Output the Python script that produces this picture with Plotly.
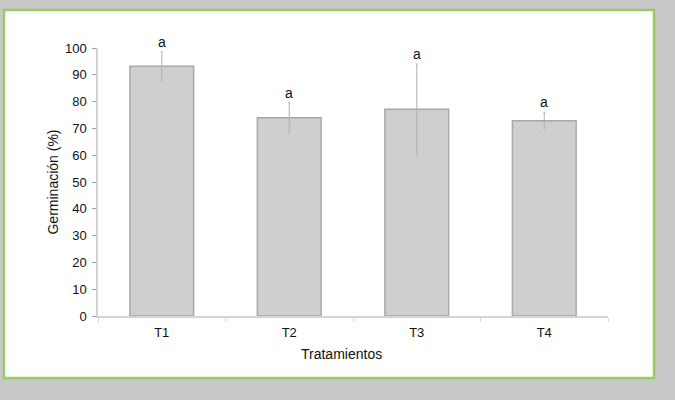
import plotly.graph_objects as go

# Germination per treatment (mean ± error)
tratamientos = ["T1", "T2", "T3", "T4"]
germinacion = [93.2, 74.0, 77.1, 72.9]
error = [5.4, 5.6, 16.9, 3.1]
letras = ["a", "a", "a", "a"]

W, H = 675, 400
L, R, T, B = 98, 67, 48, 84
pw, ph = W - L - R, H - T - B


def px_to_paper(x, y):
    return (x - L) / pw, (H - B - y) / ph


fig = go.Figure()
fig.add_trace(go.Bar(
    x=tratamientos,
    y=germinacion,
    width=0.5,
    marker=dict(color="#d0cfd0", line=dict(color="#a8a8a8", width=1.5)),
    error_y=dict(type="data", array=error, visible=True,
                 color="#b0b0b0", thickness=1, width=1),
    showlegend=False,
))

# significance letters above each error bar
for t, v, e, s in zip(tratamientos, germinacion, error, letras):
    fig.add_annotation(x=t, y=v + e, text=s, showarrow=False,
                       yanchor="bottom", yshift=0,
                       font=dict(size=14, color="#111111"))

# x-axis title, placed slightly left of centre
tx, ty = px_to_paper(341, 354)
fig.add_annotation(xref="paper", yref="paper", x=tx, y=ty,
                   text="Tratamientos", showarrow=False,
                   xanchor="center", yanchor="middle",
                   font=dict(size=14, color="#111111"))

# white panel with green frame
x0, y1 = px_to_paper(4, 10)
x1, y0 = px_to_paper(654, 378)
fig.add_shape(type="rect", xref="paper", yref="paper",
              x0=x0, x1=x1, y0=y0, y1=y1,
              fillcolor="white", line=dict(color="#99cc66", width=2.5),
              layer="below")

fig.update_layout(
    width=W, height=H,
    margin=dict(l=L, r=R, t=T, b=B),
    paper_bgcolor="#c8c8c8",
    plot_bgcolor="rgba(0,0,0,0)",
    font=dict(family="Liberation Sans, Arial, sans-serif", size=13, color="#111111"),
    bargap=0.5,
)
fig.update_xaxes(
    showline=True, linecolor="#d4d4d4", linewidth=1.5,
    ticks="outside", tickson="boundaries", ticklen=4, tickcolor="#d4d4d4",
    ticklabelstandoff=4,
    showgrid=False,
)
fig.update_yaxes(
    range=[0, 100], dtick=10,
    showline=True, linecolor="#d4d4d4", linewidth=1.5,
    ticks="outside", ticklen=4, tickcolor="#a0a0a0",
    ticklabelstandoff=3,
    showgrid=False, zeroline=False,
    title=dict(text="Germinación (%)", font=dict(size=14), standoff=3),
)

fig.write_html("out.html")
